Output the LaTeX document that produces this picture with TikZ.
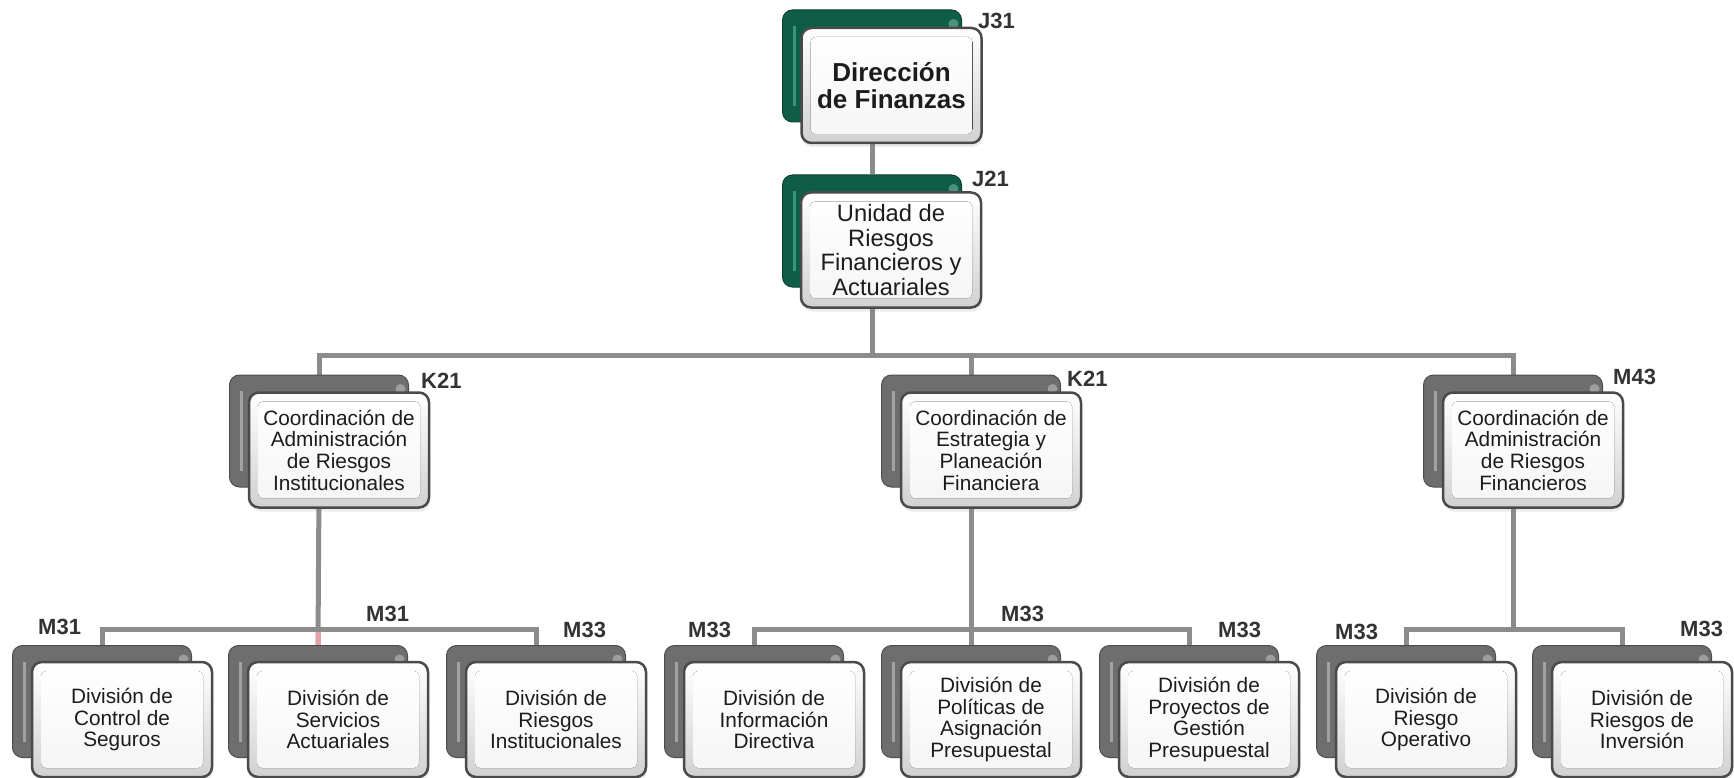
\documentclass[tikz,border=0pt]{standalone}
\usepackage{fontspec}
\setmainfont{Liberation Sans}
\usetikzlibrary{backgrounds,shadows}
\definecolor{conncol}{HTML}{8C8C8C}
\definecolor{pinkcol}{HTML}{E3A3A6}
\definecolor{greenbk}{HTML}{0E5E47}
\definecolor{greyhi}{HTML}{A2A2A2}
\definecolor{greenhi}{HTML}{3C9477}
\definecolor{greybk}{HTML}{6E6E6E}
\definecolor{frameedge}{HTML}{4A4A4A}
\definecolor{txtcol}{HTML}{1C1C1C}
\definecolor{lblcol}{HTML}{333333}
\tikzset{
  conn/.style={draw=conncol, line width=5pt, line join=miter},
  bkbox/.style={rounded corners=10pt, minimum width=179pt, minimum height=112pt,
    inner sep=0pt, line width=1pt},
  bkgreen/.style={bkbox, fill=greenbk, draw=greenbk!70!black,
    path picture={\draw[greenhi, line width=3pt]
      ([xshift=12pt,yshift=16pt]path picture bounding box.south west) --
      ([xshift=12pt,yshift=-16pt]path picture bounding box.north west);
      \fill[greenhi!70!white, opacity=0.6] ([xshift=-8pt,yshift=-14pt]path picture bounding box.north east) circle (5pt);}},
  bkgrey/.style={bkbox, fill=greybk, draw=greybk!70!black,
    path picture={\draw[greyhi, line width=3pt]
      ([xshift=12pt,yshift=16pt]path picture bounding box.south west) --
      ([xshift=12pt,yshift=-16pt]path picture bounding box.north west);
      \fill[greyhi!70!white, opacity=0.6] ([xshift=-8pt,yshift=-14pt]path picture bounding box.north east) circle (5pt);}},
  frbox/.style={rounded corners=10pt, minimum width=180pt, minimum height=115pt,
    inner sep=0pt, draw=frameedge, line width=2.5pt, text=txtcol, align=center,
    top color=white, bottom color=black!18,
    drop shadow={opacity=0.15, shadow xshift=1pt, shadow yshift=-4pt},
    path picture={\fill[rounded corners=5pt, top color=white, bottom color=black!4]
      ([xshift=9pt,yshift=9pt]path picture bounding box.south west) rectangle
      ([xshift=-9pt,yshift=-9pt]path picture bounding box.north east);},
    font=\fontsize{20.8}{21.7}\selectfont},
  lbl/.style={anchor=west, inner sep=0pt, text=lblcol,
    font=\bfseries\fontsize{22}{22}\selectfont}
}
\begin{document}
\begin{tikzpicture}[x=1pt,y=-1pt]
\useasboundingbox (0,0) rectangle (1734,778);
% top
\node[bkgreen] (j31b) at (872,66) {};
\node[frbox, font=\bfseries\fontsize{26}{26.7}\selectfont] (j31) at (891.5,85.5) {Dirección\\de Finanzas};
\node[bkgreen] (j21b) at (872,231) {};
\node[frbox, font=\fontsize{23.7}{24.4}\selectfont] (j21) at (891,250) {Unidad de\\Riesgos\\Financieros y\\Actuariales};
% K level
\node[bkgrey] (k1b) at (319,431) {};
\node[frbox] (k1) at (339,450) {Coordinación de\\Administración\\de Riesgos\\Institucionales};
\node[bkgrey] (k2b) at (971,431) {};
\node[frbox] (k2) at (991,450) {Coordinación de\\Estrategia y\\Planeación\\Financiera};
\node[bkgrey] (k3b) at (1513,431) {};
\node[frbox] (k3) at (1533,450) {Coordinación de\\Administración\\de Riesgos\\Financieros};
% bottom level
\node[bkgrey] (b1b) at (102,701.5) {};
\node[frbox] (b1) at (122,719.5) {División de\\Control de\\Seguros};
\node[bkgrey] (b2b) at (318,701.5) {};
\node[frbox] (b2) at (338,719.5) {División de\\Servicios\\Actuariales};
\node[bkgrey] (b3b) at (536,701.5) {};
\node[frbox] (b3) at (556,719.5) {División de\\Riesgos\\Institucionales};
\node[bkgrey] (b4b) at (754,701.5) {};
\node[frbox] (b4) at (774,719.5) {División de\\Información\\Directiva};
\node[bkgrey] (b5b) at (971,701.5) {};
\node[frbox] (b5) at (991,719.5) {División de\\Políticas de\\Asignación\\Presupuestal};
\node[bkgrey] (b6b) at (1189,701.5) {};
\node[frbox] (b6) at (1209,719.5) {División de\\Proyectos de\\Gestión\\Presupuestal};
\node[bkgrey] (b7b) at (1406,701.5) {};
\node[frbox] (b7) at (1426,719.5) {División de\\Riesgo\\Operativo};
\node[bkgrey] (b8b) at (1622,701.5) {};
\node[frbox] (b8) at (1642,719.5) {División de\\Riesgos de\\Inversión};
% labels
\node[lbl] (lj31) at (978,21) {J31};
\node[lbl] (lj21) at (972,179) {J21};
\node[lbl] (lk1) at (421,381) {K21};
\node[lbl] (lk2) at (1067,379) {K21};
\node[lbl] (lk3) at (1613,377) {M43};
\node[lbl] (lb1) at (38,627) {M31};
\node[lbl] (lb2) at (366,614) {M31};
\node[lbl] (lb3) at (563,630) {M33};
\node[lbl] (lb4) at (688,630) {M33};
\node[lbl] (lb5) at (1001,614) {M33};
\node[lbl] (lb6) at (1218,630) {M33};
\node[lbl] (lb7) at (1335,632) {M33};
\node[lbl] (lb8) at (1680,629) {M33};
% connectors
\coordinate (bus1) at (0,355);
\coordinate (bus2) at (0,629);
\begin{pgfonlayer}{background}
\draw[conn] (j31b.south) -- (j21b.north);
\draw[conn] (j21b.south) -- (j21b.south |- bus1);
\draw[conn] (k1b.north) |- (k3b.north |- bus1) -- (k3b.north);
\draw[conn] (k2b.north) -- (k2b.north |- bus1);
\draw[conn] (b1b.north) |- (b3b.north |- bus2) -- (b3b.north);
\draw[conn] (k1b.south) -- (b2b.north);
\draw[conn] (b4b.north) |- (b6b.north |- bus2) -- (b6b.north);
\draw[conn] (k2b.south) -- (b5b.north);
\draw[conn] (b7b.north) |- (b8b.north |- bus2) -- (b8b.north);
\draw[conn] (k3b.south) -- (k3b.south |- bus2);
\coordinate (pinktop) at ([yshift=-3pt]b2b.north |- bus2);
\draw[draw=pinkcol, line width=5pt] (pinktop) -- (b2b.north);
\end{pgfonlayer}
\end{tikzpicture}
\end{document}
